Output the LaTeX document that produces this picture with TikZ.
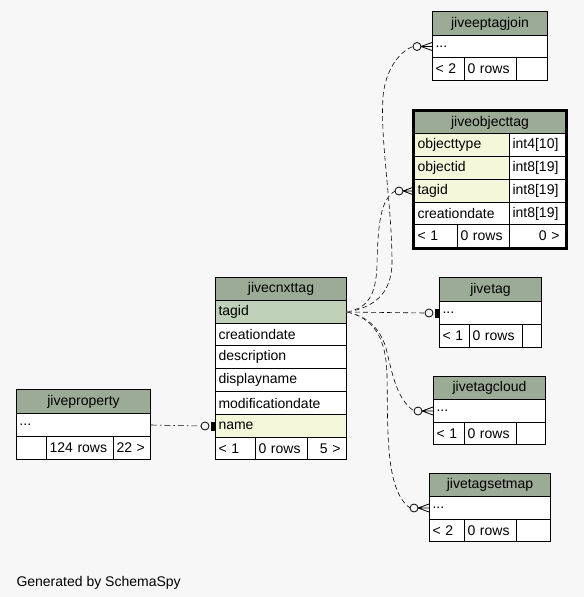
\documentclass[tikz,border=0pt]{standalone}
\usepackage{fontspec}
\setmainfont{Liberation Sans}

\begin{document}
\begin{tikzpicture}[x=1pt,y=-1pt,line width=1pt]
\definecolor{hdrgreen}{HTML}{9BAB96}
\definecolor{keygreen}{HTML}{BED1B8}
\definecolor{idxyellow}{HTML}{F4F7DA}
\definecolor{bggrey}{HTML}{F7F7F7}
\providecommand{\fbody}{\fontsize{14}{16}\selectfont}
\tikzset{cell/.style={draw=black,fill=white,anchor=north west,inner xsep=3pt,inner ysep=0pt,align=left,font=\fbody},hdr/.style={cell,fill=hdrgreen,align=center},keycell/.style={cell,fill=keygreen},idxcell/.style={cell,fill=idxyellow},numcell/.style={cell,align=right,inner xsep=6pt},tblframe/.style={draw=black,line width=2.4pt},rel/.style={draw=black,line width=0.6pt,dash pattern=on 5pt off 3pt,preaction={draw=white,solid}},relprop/.style={rel,dash pattern=on 6pt off 3pt on 1.5pt off 3pt},ring/.style={draw=black,fill=bggrey,line width=0.8pt},foot/.style={draw=black,line width=0.8pt}}
\fill[bggrey] (0,0) rectangle (584,597);
\useasboundingbox (0,0) rectangle (584,597);
% jiveeptagjoin
\node[hdr,text width=109pt,minimum height=24pt] (etj-h) at (432,11) {jiveeptagjoin};
\node[cell,text width=109pt,minimum height=22pt] (etj-r) at (432,35) {...};
\node[cell,text width=26pt,minimum height=23pt] (etj-f1) at (432,57) {<~2};
\node[cell,text width=46pt,minimum height=23pt] (etj-f2) at (464,57) {0 rows};
\node[cell,text width=25pt,minimum height=23pt] (etj-f3) at (516,57) {};
% jiveobjecttag
\node[hdr,text width=145pt,minimum height=22pt] (ot-h) at (414,111) {jiveobjecttag};
\node[idxcell,text width=89pt,minimum height=23pt] (ot-n1) at (414,133) {objecttype};
\node[cell,text width=50pt,minimum height=23pt] (ot-t1) at (509,133) {int4[10]};
\node[idxcell,text width=89pt,minimum height=23pt] (ot-n2) at (414,156) {objectid};
\node[cell,text width=50pt,minimum height=23pt] (ot-t2) at (509,156) {int8[19]};
\node[idxcell,text width=89pt,minimum height=23pt] (ot-n3) at (414,179) {tagid};
\node[cell,text width=50pt,minimum height=23pt] (ot-t3) at (509,179) {int8[19]};
\node[cell,text width=89pt,minimum height=22pt] (ot-n4) at (414,202) {creationdate};
\node[cell,text width=50pt,minimum height=22pt] (ot-t4) at (509,202) {int8[19]};
\node[cell,text width=37pt,minimum height=23pt] (ot-f1) at (414,224) {<~1};
\node[cell,text width=46pt,minimum height=23pt] (ot-f2) at (457,224) {0 rows};
\node[numcell,text width=44pt,minimum height=23pt] (ot-f3) at (509,224) {0~>};
\draw[tblframe] ([shift={(-1.2,-1.2)}]ot-h.north west) rectangle ([shift={(1.2,1.2)}]ot-f3.south east);
% jivetag
\node[hdr,text width=96pt,minimum height=24pt] (tg-h) at (439,277) {jivetag};
\node[cell,text width=96pt,minimum height=23pt] (tg-r) at (439,301) {...};
\node[cell,text width=24pt,minimum height=23pt] (tg-f1) at (439,324) {<~1};
\node[cell,text width=47pt,minimum height=23pt] (tg-f2) at (469,324) {0 rows};
\node[cell,text width=13pt,minimum height=23pt] (tg-f3) at (522,324) {};
% jivetagcloud
\node[hdr,text width=106pt,minimum height=23pt] (tc-h) at (433,376) {jivetagcloud};
\node[cell,text width=106pt,minimum height=23pt] (tc-r) at (433,399) {...};
\node[cell,text width=25pt,minimum height=22pt] (tc-f1) at (433,422) {<~1};
\node[cell,text width=46pt,minimum height=22pt] (tc-f2) at (464,422) {0 rows};
\node[cell,text width=23pt,minimum height=22pt] (tc-f3) at (516,422) {};
% jivetagsetmap
\node[hdr,text width=115pt,minimum height=23pt] (tsm-h) at (429,473) {jivetagsetmap};
\node[cell,text width=115pt,minimum height=23pt] (tsm-r) at (429,496) {...};
\node[cell,text width=29pt,minimum height=22pt] (tsm-f1) at (429,519) {<~2};
\node[cell,text width=46pt,minimum height=22pt] (tsm-f2) at (464,519) {0 rows};
\node[cell,text width=28pt,minimum height=22pt] (tsm-f3) at (516,519) {};
% jivecnxttag
\node[hdr,text width=125pt,minimum height=23pt] (cx-h) at (215,277) {jivecnxttag};
\node[keycell,text width=125pt,minimum height=23pt] (cx-tagid) at (215,300) {tagid};
\node[cell,text width=125pt,minimum height=22pt] (cx-cdate) at (215,323) {creationdate};
\node[cell,text width=125pt,minimum height=23pt] (cx-desc) at (215,345) {description};
\node[cell,text width=125pt,minimum height=23pt] (cx-dname) at (215,368) {displayname};
\node[cell,text width=125pt,minimum height=23pt] (cx-mdate) at (215,391) {modificationdate};
\node[idxcell,text width=125pt,minimum height=23pt] (cx-name) at (215,414) {name};
\node[cell,text width=34pt,minimum height=22pt] (cx-f1) at (215,437) {<~1};
\node[cell,text width=46pt,minimum height=22pt] (cx-f2) at (255,437) {0 rows};
\node[numcell,text width=27pt,minimum height=22pt] (cx-f3) at (307,437) {5~>};
% jiveproperty
\node[hdr,text width=128pt,minimum height=24pt] (jp-h) at (16,389) {jiveproperty};
\node[cell,text width=128pt,minimum height=23pt] (jp-r) at (16,413) {...};
\node[cell,text width=24pt,minimum height=23pt] (jp-f1) at (16,436) {};
\node[cell,text width=61pt,minimum height=23pt] (jp-f2) at (46,436) {124 rows};
\node[cell,text width=31pt,minimum height=23pt] (jp-f3) at (113,436) {22~>};
% relationships
\draw[rel] (cx-tagid.east) .. controls (372,308) and (392,295) .. (392,262) .. controls (392,205) and (380,140) .. (383,97) .. controls (385,72) and (398,52) .. ([shift={(-19,0)}]etj-r.west);
\draw[ring] ([shift={(-15,0)}]etj-r.west) circle (4pt);
\draw[foot] ([shift={(-11,0)}]etj-r.west) -- ([shift={(0,-4)}]etj-r.west) ([shift={(-11,0)}]etj-r.west) -- (etj-r.west) ([shift={(-11,0)}]etj-r.west) -- ([shift={(0,4)}]etj-r.west);
\draw[rel] (cx-tagid.east) .. controls (368,308) and (376,295) .. (377,265) .. controls (378,225) and (380,200) .. ([shift={(-19,0)}]ot-n3.west);
\draw[ring] ([shift={(-15,0)}]ot-n3.west) circle (4pt);
\draw[foot] ([shift={(-11,0)}]ot-n3.west) -- ([shift={(0,-4)}]ot-n3.west) ([shift={(-11,0)}]ot-n3.west) -- (ot-n3.west) ([shift={(-11,0)}]ot-n3.west) -- ([shift={(0,4)}]ot-n3.west);
\draw[rel] (cx-tagid.east) -- ([shift={(-14,0)}]tg-r.west);
\draw[ring] ([shift={(-10,0)}]tg-r.west) circle (4pt);
\fill ([shift={(-4,-4.5)}]tg-r.west) rectangle ([shift={(0,4.5)}]tg-r.west);
\draw[rel] (cx-tagid.east) .. controls (368,316) and (382,330) .. (387,352) .. controls (393,378) and (398,400) .. ([shift={(-19,0)}]tc-r.west);
\draw[ring] ([shift={(-15,0)}]tc-r.west) circle (4pt);
\draw[foot] ([shift={(-11,0)}]tc-r.west) -- ([shift={(0,-4)}]tc-r.west) ([shift={(-11,0)}]tc-r.west) -- (tc-r.west) ([shift={(-11,0)}]tc-r.west) -- ([shift={(0,4)}]tc-r.west);
\draw[rel] (cx-tagid.east) .. controls (372,318) and (386,335) .. (387,375) .. controls (388,430) and (385,490) .. ([shift={(-19,0)}]tsm-r.west);
\draw[ring] ([shift={(-15,0)}]tsm-r.west) circle (4pt);
\draw[foot] ([shift={(-11,0)}]tsm-r.west) -- ([shift={(0,-4)}]tsm-r.west) ([shift={(-11,0)}]tsm-r.west) -- (tsm-r.west) ([shift={(-11,0)}]tsm-r.west) -- ([shift={(0,4)}]tsm-r.west);
\draw[relprop] (jp-r.east) -- ([shift={(-14,0)}]cx-name.west);
\draw[ring] ([shift={(-10,0)}]cx-name.west) circle (4pt);
\fill ([shift={(-4,-4.5)}]cx-name.west) rectangle ([shift={(0,4.5)}]cx-name.west);
\node[anchor=base west,inner sep=0pt,font=\fbody] (credit) at (16,586) {Generated by SchemaSpy};
\end{tikzpicture}
\end{document}
